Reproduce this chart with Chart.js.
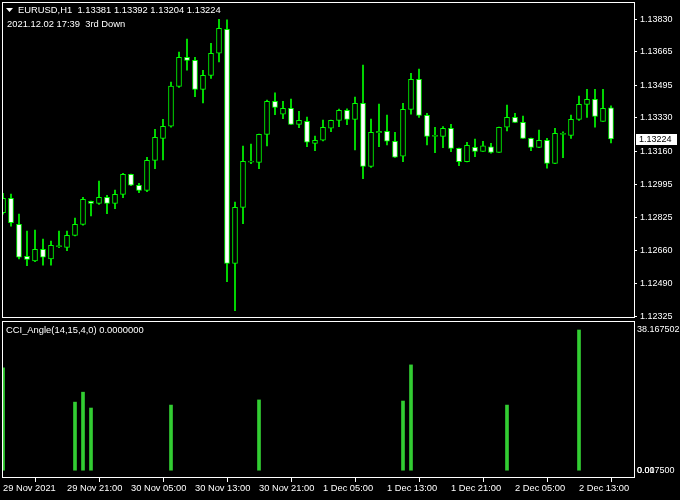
<!DOCTYPE html>
<html><head><meta charset="utf-8">
<script src="https://cdn.jsdelivr.net/npm/chart.js@4"></script>
<style>
html,body{margin:0;padding:0;background:#000;width:680px;height:500px;overflow:hidden}
#c1{position:absolute;left:0;top:0}
#c2{position:absolute;left:0;top:320px}
</style></head><body>
<canvas id="c1" width="680" height="320"></canvas>
<canvas id="c2" width="680" height="180"></canvas>
<script>
const symbolTitle = "EURUSD,H1  1.13381 1.13392 1.13204 1.13224";
const subTitle = "2021.12.02 17:39  3rd Down";
const indicatorTitle = "CCI_Angle(14,15,4,0) 0.0000000";
const timeLabels = ["29 Nov 2021","29 Nov 21:00","30 Nov 05:00","30 Nov 13:00","30 Nov 21:00","1 Dec 05:00","1 Dec 13:00","1 Dec 21:00","2 Dec 05:00","2 Dec 13:00"];
const priceTicks = [1.13830,1.13665,1.13495,1.13330,1.13160,1.12995,1.12825,1.12660,1.12490,1.12325];
const indicatorTicks = [38.167502, 0.0175, 0];
const indicatorTickLabels = ["38.167502","0.017500","0.00"];
const lastPrice = 1.13224;

const opens = [
1.12850,1.12923,1.12791,1.12629,1.12606,1.12664,1.12616,1.12678,1.12674,1.12735,
1.12791,1.12907,1.12897,1.12928,1.12897,1.12943,1.13044,1.12989,1.12963,1.13115,
1.13227,1.13288,1.13490,1.13638,1.13622,1.13475,1.13546,1.13658,1.13779,1.12593,
1.12877,1.13106,1.13105,1.13247,1.13414,1.13349,1.13379,1.13298,1.13313,1.13201,
1.13217,1.13278,1.13318,1.13369,1.13323,1.13404,1.13085,1.13255,1.13262,1.13212,
1.13136,1.13374,1.13526,1.13343,1.13237,1.13237,1.13278,1.13176,1.13108,1.13181,
1.13161,1.13184,1.13156,1.13283,1.13333,1.13308,1.13227,1.13181,1.13217,1.13100,
1.13247,1.13242,1.13323,1.13399,1.13425,1.13313,1.13381];
const highs = [
1.12948,1.12944,1.12843,1.12757,1.12762,1.12716,1.12706,1.12757,1.12757,1.12823,
1.12928,1.12909,1.13010,1.12938,1.12965,1.13049,1.13046,1.12999,1.13131,1.13272,
1.13323,1.13512,1.13664,1.13730,1.13638,1.13572,1.13709,1.13830,1.13827,1.12904,
1.13188,1.13198,1.13249,1.13421,1.13457,1.13414,1.13426,1.13364,1.13335,1.13238,
1.13320,1.13320,1.13375,1.13377,1.13436,1.13598,1.13325,1.13401,1.13345,1.13257,
1.13404,1.13556,1.13578,1.13354,1.13283,1.13286,1.13298,1.13178,1.13207,1.13223,
1.13212,1.13201,1.13284,1.13396,1.13354,1.13340,1.13228,1.13269,1.13227,1.13278,
1.13260,1.13345,1.13441,1.13475,1.13475,1.13475,1.13392];
const lows = [
1.12843,1.12782,1.12616,1.12581,1.12601,1.12584,1.12584,1.12672,1.12657,1.12732,
1.12786,1.12834,1.12892,1.12845,1.12870,1.12926,1.12987,1.12951,1.12956,1.13073,
1.13118,1.13284,1.13485,1.13572,1.13438,1.13406,1.13531,1.13614,1.12500,1.12353,
1.12794,1.13098,1.13073,1.13189,1.13347,1.13326,1.13297,1.13281,1.13184,1.13164,
1.13214,1.13260,1.13286,1.13296,1.13168,1.13022,1.13080,1.13184,1.13194,1.13130,
1.13108,1.13349,1.13333,1.13194,1.13154,1.13180,1.13159,1.13088,1.13107,1.13134,
1.13160,1.13151,1.13155,1.13265,1.13307,1.13226,1.13164,1.13180,1.13075,1.13099,
1.13129,1.13227,1.13318,1.13333,1.13283,1.13312,1.13204];
const closes = [
1.12923,1.12799,1.12624,1.12613,1.12664,1.12624,1.12684,1.12683,1.12735,1.12791,
1.12918,1.12897,1.12928,1.12897,1.12943,1.13044,1.12989,1.12963,1.13115,1.13232,
1.13288,1.13492,1.13638,1.13622,1.13475,1.13546,1.13658,1.13785,1.12593,1.12877,
1.13110,1.13112,1.13247,1.13414,1.13384,1.13379,1.13298,1.13318,1.13207,1.13217,
1.13283,1.13318,1.13369,1.13323,1.13404,1.13085,1.13257,1.13262,1.13212,1.13131,
1.13374,1.13526,1.13343,1.13237,1.13237,1.13278,1.13176,1.13108,1.13191,1.13161,
1.13189,1.13156,1.13283,1.13333,1.13308,1.13227,1.13181,1.13217,1.13100,1.13252,
1.13252,1.13323,1.13399,1.13425,1.13338,1.13379,1.13224];
const cciAngle = [
27.9,0,0,0,0,0,0,0,0,18.6,
21.3,17.0,0,0,0,0,0,0,0,0,
0,17.8,0,0,0,0,0,0,0,0,
0,0,19.2,0,0,0,0,0,0,0,
0,0,0,0,0,0,0,0,0,0,
18.9,28.7,0,0,0,0,0,0,0,0,
0,0,0,17.8,0,0,0,0,0,0,
0,0,38.167502,0,0,0,0];

const FONT = "'Liberation Sans', Arial, sans-serif";
const GREEN = '#00ff00';

const framePlugin = {
  id: 'frame',
  afterDraw(chart) {
    const a = chart.chartArea, ctx = chart.ctx;
    ctx.save();
    ctx.strokeStyle = '#ffffff';
    ctx.lineWidth = 1;
    ctx.strokeRect(a.left + 0.5, a.top + 0.5, a.right - a.left, a.bottom - a.top - 1);
    ctx.restore();
  }
};

const mainText = {
  id: 'mainText',
  afterDraw(chart) {
    const ctx = chart.ctx;
    ctx.save();
    ctx.fillStyle = '#ffffff';
    ctx.beginPath();
    ctx.moveTo(6, 8); ctx.lineTo(13, 8); ctx.lineTo(9.5, 12); ctx.closePath(); ctx.fill();
    ctx.font = "9.4px " + FONT;
    ctx.textBaseline = 'middle';
    ctx.textAlign = 'left';
    ctx.fillText(symbolTitle, 18, 10.5);
    ctx.fillText(subTitle, 7, 24);
    const y = Math.round(chart.scales.y.getPixelForValue(lastPrice));
    ctx.fillStyle = '#ffffff';
    ctx.fillRect(636, y - 5, 41, 11);
    ctx.fillStyle = '#000000';
    ctx.font = "9px " + FONT;
    ctx.fillText(lastPrice.toFixed(5), 639, y + 0.5);
    ctx.restore();
  }
};

const indText = {
  id: 'indText',
  afterDraw(chart) {
    const ctx = chart.ctx;
    ctx.save();
    ctx.fillStyle = '#ffffff';
    ctx.font = "9.4px " + FONT;
    ctx.textBaseline = 'middle';
    ctx.textAlign = 'left';
    ctx.fillText(indicatorTitle, 6, 10.5);
    ctx.restore();
  }
};

function noPad(s) { s.paddingTop = 0; s.paddingBottom = 0; s.paddingLeft = 0; s.paddingRight = 0; }

const xMin = -0.125, xMax = 78.875;

new Chart(document.getElementById('c1'), {
  type: 'bar',
  data: {
    datasets: [
      {
        label: 'body',
        data: opens.map((o, i) => ({x: i, y: [o, closes[i]]})),
        backgroundColor: c => (closes[c.dataIndex] < opens[c.dataIndex] ? '#ffffff' : '#000000'),
        borderColor: GREEN,
        borderWidth: 1,
        borderSkipped: false,
        barThickness: 5,
        minBarLength: 1,
        grouped: false,
        order: 0
      },
      {
        label: 'wick',
        data: lows.map((l, i) => ({x: i, y: [l, highs[i]]})),
        backgroundColor: GREEN,
        borderWidth: 0,
        barThickness: 1,
        grouped: false,
        order: 1
      }
    ]
  },
  options: {
    responsive: false,
    animation: false,
    devicePixelRatio: 1,
    layout: {padding: {left: 2, top: 2, bottom: 2, right: 0}},
    plugins: {legend: {display: false}, tooltip: {enabled: false}},
    scales: {
      x: {type: 'linear', min: xMin, max: xMax, display: false, offset: false},
      y: {
        type: 'linear', position: 'right', min: 1.12316, max: 1.13918,
        afterBuildTicks: s => { s.ticks = priceTicks.map(v => ({value: v})); },
        afterFit: s => { s.width = 46; noPad(s); },
        ticks: {color: '#ffffff', font: {family: FONT, size: 9}, padding: 3, autoSkip: false,
          callback: v => Number(v).toFixed(5)},
        grid: {drawOnChartArea: false, color: '#ffffff', tickLength: 3},
        border: {display: false}
      }
    }
  },
  plugins: [framePlugin, mainText]
});

new Chart(document.getElementById('c2'), {
  type: 'bar',
  data: {
    datasets: [{
      label: 'CCI_Angle',
      data: cciAngle.map((v, i) => ({x: i, y: v})).filter(p => p.y > 0),
      backgroundColor: '#32cd32',
      borderWidth: 0,
      barThickness: 3,
      grouped: false
    }]
  },
  options: {
    responsive: false,
    animation: false,
    devicePixelRatio: 1,
    layout: {padding: {left: 2, top: 1, bottom: 0, right: 0}},
    plugins: {legend: {display: false}, tooltip: {enabled: false}},
    scales: {
      x: {
        type: 'linear', min: xMin, max: xMax, offset: false,
        afterBuildTicks: s => { s.ticks = timeLabels.map((t, k) => ({value: k * 8})); },
        afterFit: s => { s.height = 22; noPad(s); },
        ticks: {color: '#ffffff', font: {family: FONT, size: 9.3}, padding: 1, align: 'start',
          maxRotation: 0, autoSkip: false, callback: v => timeLabels[Math.round(v / 8)]},
        grid: {drawOnChartArea: false, color: '#ffffff', tickLength: 4},
        border: {display: false}
      },
      y: {
        type: 'linear', position: 'right', min: -1.98, max: 40.61,
        afterBuildTicks: s => { s.ticks = indicatorTicks.map(v => ({value: v})); },
        afterFit: s => { s.width = 46; noPad(s); },
        ticks: {color: '#ffffff', font: {family: FONT, size: 9}, padding: 3, autoSkip: false,
          callback: (v) => indicatorTickLabels[indicatorTicks.indexOf(v)]},
        grid: {drawOnChartArea: false, display: true, drawTicks: false, color: '#ffffff'},
        border: {display: false}
      }
    }
  },
  plugins: [framePlugin, indText]
});
</script>
</body></html>
